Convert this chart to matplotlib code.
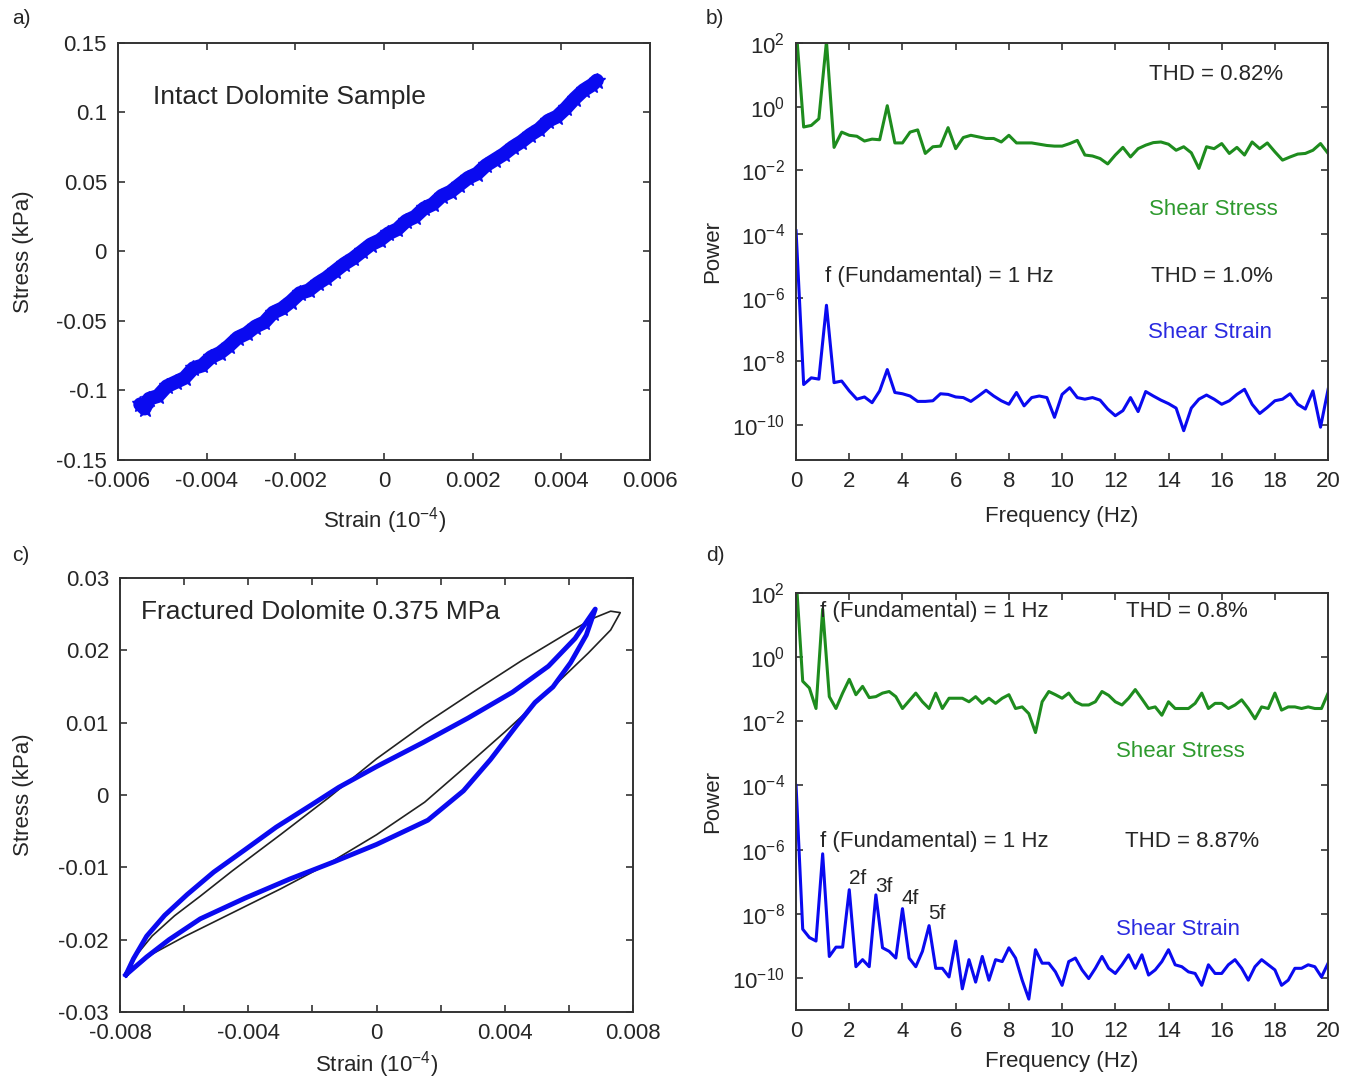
import numpy as np
import matplotlib
matplotlib.use("Agg")
import matplotlib.pyplot as plt

plt.rcParams['font.family'] = ['Liberation Sans', 'DejaVu Sans']
plt.rcParams['mathtext.fontset'] = 'custom'
plt.rcParams['mathtext.rm'] = 'Liberation Sans'
plt.rcParams['axes.unicode_minus'] = False

TXT = '#262626'
BLUE = '#0a0af0'
GREEN = '#1e8c1e'

# ---- panel a: intact dolomite stress-strain (strain x1e-3, stress kPa)
a_strain = [-5.5, -5.4, -5.3, -5.1, -4.9, -4.7, -4.5, -4.3, -4.1, -3.9, -3.7, -3.5,
            -3.3, -3.1, -2.9, -2.7, -2.5, -2.3, -2.1, -1.9, -1.7, -1.5, -1.3, -1.1,
            -0.9, -0.7, -0.5, -0.3, -0.1, 0.1, 0.3, 0.5, 0.7, 0.9, 1.1, 1.3, 1.5,
            1.7, 1.9, 2.1, 2.3, 2.5, 2.7, 2.9, 3.1, 3.3, 3.5, 3.7, 3.9, 4.1, 4.3,
            4.5, 4.7, 4.8]
a_stress = [-0.110, -0.113, -0.106, -0.104, -0.097, -0.094, -0.091, -0.084, -0.082,
            -0.076, -0.073, -0.068, -0.062, -0.059, -0.054, -0.051, -0.044, -0.041,
            -0.036, -0.030, -0.028, -0.023, -0.019, -0.014, -0.009, -0.005, 0.000,
            0.005, 0.008, 0.013, 0.016, 0.022, 0.025, 0.031, 0.034, 0.040, 0.043,
            0.048, 0.053, 0.056, 0.062, 0.066, 0.070, 0.075, 0.079, 0.084, 0.088,
            0.094, 0.097, 0.103, 0.110, 0.116, 0.120, 0.123]

# ---- panel b: power spectra, intact sample (log10 power), df = 20/70 Hz
b_stress_log = [2.5, -0.64, -0.59, -0.38, 2.05, -1.28, -0.80, -0.90, -0.93, -1.08,
                -1.02, -1.04, 0.03, -1.14, -1.14, -0.80, -0.73, -1.47, -1.26, -1.24,
                -0.66, -1.32, -0.97, -0.90, -0.95, -1.00, -1.00, -1.11, -0.90, -1.14,
                -1.14, -1.14, -1.18, -1.22, -1.24, -1.24, -1.16, -1.06, -1.52, -1.55,
                -1.63, -1.80, -1.52, -1.28, -1.58, -1.32, -1.21, -1.13, -1.11, -1.18,
                -1.37, -1.26, -1.45, -1.94, -1.26, -1.32, -1.16, -1.47, -1.28, -1.52,
                -1.11, -1.32, -1.14, -1.42, -1.68, -1.58, -1.49, -1.47, -1.37, -1.16,
                -1.47]
b_strain_log = [-3.90, -8.73, -8.52, -8.56, -6.24, -8.67, -8.62, -8.93, -9.19, -9.12,
                -9.30, -8.93, -8.26, -8.98, -9.02, -9.09, -9.26, -9.26, -9.24, -9.02,
                -9.04, -9.12, -9.14, -9.26, -9.09, -8.91, -9.09, -9.24, -9.35, -8.98,
                -9.40, -9.14, -9.09, -9.14, -9.76, -9.04, -8.83, -9.14, -9.19, -9.14,
                -9.22, -9.50, -9.71, -9.55, -9.14, -9.58, -8.95, -9.09, -9.22, -9.33,
                -9.47, -10.18, -9.47, -9.19, -9.06, -9.19, -9.35, -9.24, -9.04, -8.88,
                -9.35, -9.64, -9.45, -9.24, -9.19, -9.02, -9.35, -9.50, -8.93, -10.07,
                -8.88]

# ---- panel c: fractured dolomite hysteresis loop (strain, stress kPa)
c_blue_strain = [-0.00782, -0.00758, -0.00717, -0.00661, -0.00591, -0.00508, -0.00410,
                 -0.00313, -0.00202, -0.00118, 0.0, 0.00146, 0.00285, 0.00424, 0.00536,
                 0.00619, 0.00682, 0.00654, 0.00605, 0.00550, 0.00494, 0.00438, 0.00355,
                 0.00271, 0.00160, 0.0, -0.00132, -0.00271, -0.00410, -0.00550, -0.00647,
                 -0.00717, -0.00782]
c_blue_stress = [-0.02488, -0.02263, -0.01952, -0.01665, -0.01378, -0.01067, -0.00756,
                 -0.00445, -0.00134, 0.00105, 0.00392, 0.00727, 0.01062, 0.01421, 0.01780,
                 0.02163, 0.02569, 0.02210, 0.01828, 0.01493, 0.01278, 0.00967, 0.00488,
                 0.00057, -0.00349, -0.00684, -0.00923, -0.01163, -0.01426, -0.01713,
                 -0.02000, -0.02239, -0.02488]
c_fit_strain = [-0.0078, -0.0075, -0.0070, -0.0063, -0.0055, -0.0045, -0.0030, -0.0015,
                0.0, 0.0015, 0.0030, 0.0045, 0.0060, 0.0068, 0.0073, 0.0076, 0.0073,
                0.0066, 0.0058, 0.0050, 0.0040, 0.0028, 0.0015, 0.0, -0.0015, -0.0030,
                -0.0045, -0.0060, -0.0070, -0.0078]
c_fit_stress = [-0.0249, -0.0222, -0.0195, -0.0167, -0.0140, -0.0105, -0.0055, -0.0004,
                0.0050, 0.0098, 0.0142, 0.0185, 0.0225, 0.0245, 0.0254, 0.0252, 0.0228,
                0.0196, 0.0162, 0.0128, 0.0087, 0.0040, -0.0010, -0.0055, -0.0095,
                -0.0130, -0.0163, -0.0196, -0.0220, -0.0249]

# ---- panel d: power spectra, fractured sample (log10 power), df = 0.25 Hz
d_stress_log = [2.5, -0.75, -0.96, -1.60, 1.50, -1.23, -1.60, -1.12, -0.69, -1.17,
                -0.91, -1.26, -1.23, -1.12, -1.07, -1.23, -1.60, -1.36, -1.12, -1.39,
                -1.60, -1.12, -1.60, -1.28, -1.28, -1.28, -1.39, -1.23, -1.44, -1.28,
                -1.44, -1.28, -1.17, -1.60, -1.55, -1.76, -2.35, -1.39, -1.07, -1.17,
                -1.28, -1.12, -1.39, -1.49, -1.49, -1.39, -1.07, -1.19, -1.39, -1.49,
                -1.28, -1.01, -1.30, -1.60, -1.55, -1.81, -1.39, -1.60, -1.60, -1.60,
                -1.44, -1.12, -1.60, -1.44, -1.44, -1.60, -1.49, -1.33, -1.60, -1.92,
                -1.55, -1.60, -1.12, -1.65, -1.55, -1.55, -1.60, -1.55, -1.60, -1.60,
                -1.12]
d_strain_log = [-4.00, -8.48, -8.74, -8.85, -6.13, -9.33, -9.04, -9.04, -7.25, -9.65,
                -9.43, -9.65, -7.41, -9.06, -9.17, -9.38, -7.84, -9.38, -9.65, -9.17,
                -8.37, -9.70, -9.70, -9.97, -8.85, -10.34, -9.43, -10.13, -9.33, -10.07,
                -9.43, -9.49, -9.06, -9.38, -10.07, -10.66, -9.12, -9.54, -9.54, -9.81,
                -10.23, -9.49, -9.38, -9.75, -10.02, -9.70, -9.33, -9.70, -9.86, -9.59,
                -9.28, -9.70, -9.28, -9.91, -9.75, -9.49, -9.12, -9.59, -9.65, -9.81,
                -9.86, -10.23, -9.59, -9.86, -9.86, -9.59, -9.43, -9.70, -10.07, -9.65,
                -9.43, -9.59, -9.75, -10.23, -10.07, -9.70, -9.70, -9.59, -9.65, -9.97,
                -9.54]

b_freq = np.linspace(0, 20, len(b_stress_log))
d_freq = np.linspace(0, 20, len(d_stress_log))

fig = plt.figure(figsize=(13.58, 10.8), dpi=100)
ax_a = fig.add_axes([0.0869, 0.5741, 0.3918, 0.3861])
ax_b = fig.add_axes([0.5862, 0.5741, 0.3918, 0.3861])
ax_c = fig.add_axes([0.0884, 0.0630, 0.3778, 0.4019])
ax_d = fig.add_axes([0.5862, 0.0648, 0.3918, 0.3861])


def style(ax):
    for s in ax.spines.values():
        s.set_color('#333333')
        s.set_linewidth(1.4)
    ax.tick_params(direction='in', length=5, width=1.2, top=True, right=True,
                   labelsize=16, colors='#333333', labelcolor=TXT, pad=8)
    ax.minorticks_off()


# a)
ax_a.plot(np.array(a_strain) * 1e-3, a_stress, '-', color=BLUE, lw=10, solid_capstyle='round')
ax_a.plot(np.array(a_strain) * 1e-3, a_stress, '*', color=BLUE, ms=12)
ax_a.set_xlim(-0.006, 0.006)
ax_a.set_ylim(-0.15, 0.15)
ax_a.set_xticks([-0.006, -0.004, -0.002, 0, 0.002, 0.004, 0.006])
ax_a.set_xticklabels(['-0.006', '-0.004', '-0.002', '0', '0.002', '0.004', '0.006'])
ax_a.set_yticks([-0.15, -0.1, -0.05, 0, 0.05, 0.1, 0.15])
ax_a.set_yticklabels(['-0.15', '-0.1', '-0.05', '0', '0.05', '0.1', '0.15'])
ax_a.text(-0.0052, 0.111, 'Intact Dolomite Sample', fontsize=19, color=TXT, va='center')
style(ax_a)
ax_a.set_xlabel('Strain (10$^{-4}$)', fontsize=16, color=TXT)
ax_a.set_ylabel('Stress (kPa)', fontsize=16, color=TXT)
ax_a.xaxis.set_label_coords(0.5, -0.108)
ax_a.yaxis.set_label_coords(-0.158, 0.5)

# b) and d)
log_ticks = [1e-10, 1e-8, 1e-6, 1e-4, 1e-2, 1e0, 1e2]
log_labels = ['10$^{-10}$', '10$^{-8}$', '10$^{-6}$', '10$^{-4}$', '10$^{-2}$', '10$^{0}$', '10$^{2}$']

for ax, f, st, sn, ylo in [(ax_b, b_freq, b_stress_log, b_strain_log, 10 ** -11.1),
                           (ax_d, d_freq, d_stress_log, d_strain_log, 10 ** -11.0)]:
    ax.semilogy(f, 10.0 ** np.array(st), color=GREEN, lw=2.2)
    ax.semilogy(f, 10.0 ** np.array(sn), color=BLUE, lw=2.2)
    ax.set_xlim(0, 20)
    ax.set_ylim(ylo, 1e2)
    ax.set_xticks(range(0, 21, 2))
    ax.set_yticks(log_ticks)
    ax.set_yticklabels(log_labels)
    style(ax)
    ax.set_xlabel('Frequency (Hz)', fontsize=16, color=TXT)
    ax.set_ylabel('Power', fontsize=16, color=TXT)
    ax.yaxis.set_label_coords(-0.137, 0.5)

ax_b.xaxis.set_label_coords(0.5, -0.11)
ax_d.xaxis.set_label_coords(0.5, -0.098)

tb = ax_b.transAxes
ax_b.text(0.79, 0.925, 'THD = 0.82%', transform=tb, fontsize=16, color=TXT, ha='center', va='center')
ax_b.text(0.785, 0.6, 'Shear Stress', transform=tb, fontsize=16, color='#2e9a2e', ha='center', va='center')
ax_b.text(0.055, 0.44, 'f (Fundamental) = 1 Hz', transform=tb, fontsize=16, color=TXT, va='center')
ax_b.text(0.782, 0.44, 'THD = 1.0%', transform=tb, fontsize=16, color=TXT, ha='center', va='center')
ax_b.text(0.778, 0.305, 'Shear Strain', transform=tb, fontsize=16, color='#2a2ae0', ha='center', va='center')

td = ax_d.transAxes
ax_d.text(0.045, 0.955, 'f (Fundamental) = 1 Hz', transform=td, fontsize=16, color=TXT, va='center')
ax_d.text(0.735, 0.955, 'THD = 0.8%', transform=td, fontsize=16, color=TXT, ha='center', va='center')
ax_d.text(0.722, 0.62, 'Shear Stress', transform=td, fontsize=16, color='#2e9a2e', ha='center', va='center')
ax_d.text(0.045, 0.403, 'f (Fundamental) = 1 Hz', transform=td, fontsize=16, color=TXT, va='center')
ax_d.text(0.745, 0.403, 'THD = 8.87%', transform=td, fontsize=16, color=TXT, ha='center', va='center')
ax_d.text(0.718, 0.193, 'Shear Strain', transform=td, fontsize=16, color='#2a2ae0', ha='center', va='center')
for lab, fx, fy in [('2f', 2.3, 0.315), ('3f', 3.3, 0.296), ('4f', 4.3, 0.267), ('5f', 5.3, 0.232)]:
    ax_d.text(fx / 20, fy, lab, transform=td, fontsize=15, color=TXT, ha='center', va='center')

# c)
ax_c.plot(c_fit_strain, c_fit_stress, color='#222222', lw=1.2)
ax_c.plot(c_blue_strain, c_blue_stress, color=BLUE, lw=3.5)
ax_c.set_xlim(-0.008, 0.008)
ax_c.set_ylim(-0.03, 0.03)
ax_c.set_xticks(np.arange(-0.008, 0.0081, 0.002))
ax_c.set_xticklabels(['-0.008', '', '-0.004', '', '0', '', '0.004', '', '0.008'])
ax_c.set_yticks([-0.03, -0.02, -0.01, 0, 0.01, 0.02, 0.03])
ax_c.set_yticklabels(['-0.03', '-0.02', '-0.01', '0', '0.01', '0.02', '0.03'])
ax_c.text(-0.00735, 0.0253, 'Fractured Dolomite 0.375 MPa', fontsize=19, color=TXT, va='center')
style(ax_c)
ax_c.set_xlabel('Strain (10$^{-4}$)', fontsize=16, color=TXT)
ax_c.set_ylabel('Stress (kPa)', fontsize=16, color=TXT)
ax_c.xaxis.set_label_coords(0.5, -0.086)
ax_c.yaxis.set_label_coords(-0.168, 0.5)

# panel letters
for lab, x, y in [('a)', 0.009, 0.983), ('b)', 0.52, 0.983), ('c)', 0.009, 0.486), ('d)', 0.52, 0.486)]:
    fig.text(x, y, lab, fontsize=15, color=TXT, va='center')

fig.savefig('out.png', dpi=100)
